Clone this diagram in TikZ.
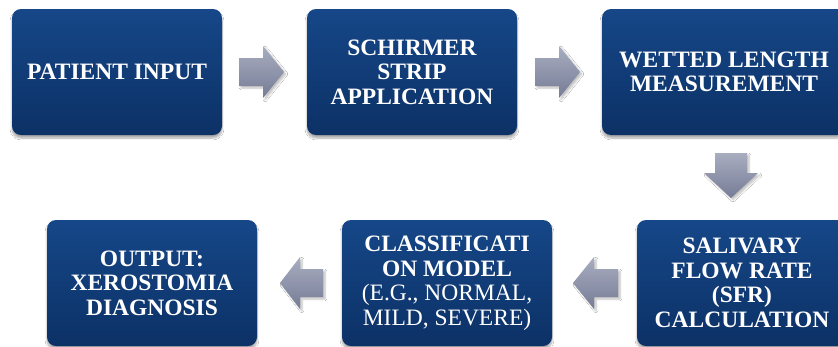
\documentclass[tikz,border=0pt]{standalone}
\usepackage{fontspec}
\setmainfont{Liberation Serif}
\usetikzlibrary{shadows.blur}
\definecolor{boxtop}{RGB}{22,71,136}
\definecolor{boxbot}{RGB}{12,49,102}
\definecolor{arrtop}{RGB}{168,173,192}
\definecolor{arrbot}{RGB}{118,124,150}
\tikzset{
  stepbox/.style={rounded corners=9pt, top color=boxtop, bottom color=boxbot,
    draw=none, text=white, align=center, minimum height=126pt,
    font=\bfseries\fontsize{23.5}{24.5}\selectfont,
    blur shadow={shadow blur steps=8, shadow xshift=0pt, shadow yshift=-3pt, shadow opacity=35}},
  blockarrow/.style={top color=arrtop, bottom color=arrbot, draw=none,
    blur shadow={shadow blur steps=6, shadow xshift=2pt, shadow yshift=-2pt, shadow opacity=25}}
}
\begin{document}
\begin{tikzpicture}[x=1pt,y=-1pt]
\useasboundingbox (0,0) rectangle (838,346);
\clip (0,0) rectangle (838,346);
\fill[white] (0,0) rectangle (838,346);
% boxes
\node[stepbox, minimum width=210pt] (b1) at (117,72) {PATIENT INPUT};
\node[stepbox, minimum width=210pt] (b2) at (412,72) {SCHIRMER\\STRIP\\APPLICATION};
\node[stepbox, minimum width=244pt] (b3) at (724,72) {WETTED LENGTH\\MEASUREMENT};
\node[stepbox, minimum width=210pt] (b4) at (742,283) {SALIVARY\\FLOW RATE\\(SFR)\\CALCULATION};
\node[stepbox, minimum width=210pt] (b5) at (447,283) {CLASSIFICATI\\ON MODEL\\{\mdseries(E.G., NORMAL,}\\{\mdseries MILD, SEVERE)}};
\node[stepbox, minimum width=210pt] (b6) at (152,283) {OUTPUT:\\XEROSTOMIA\\DIAGNOSIS};
% block arrows (right)
\coordinate (a1) at (239,72);
\path[blockarrow] (a1) ++(0,-14) -- ++(24,0) -- ++(0,-12) -- ++(21,26) -- ++(-21,26) -- ++(0,-12) -- ++(-24,0) -- cycle;
\coordinate (a2) at (535,72);
\path[blockarrow] (a2) ++(0,-14) -- ++(24,0) -- ++(0,-12) -- ++(21,26) -- ++(-21,26) -- ++(0,-12) -- ++(-24,0) -- cycle;
% down arrow
\coordinate (a3) at (731,153);
\path[blockarrow] (a3) ++(-16,0) -- ++(32,0) -- ++(0,20) -- ++(11,0) -- ++(-27,25) -- ++(-27,-25) -- ++(11,0) -- cycle;
% left arrows
\coordinate (a4) at (618,283);
\path[blockarrow] (a4) ++(0,-14) -- ++(-24,0) -- ++(0,-12) -- ++(-21,26) -- ++(21,26) -- ++(0,-12) -- ++(24,0) -- cycle;
\coordinate (a5) at (323,283);
\path[blockarrow] (a5) ++(0,-14) -- ++(-23,0) -- ++(0,-12) -- ++(-20,26) -- ++(20,26) -- ++(0,-12) -- ++(23,0) -- cycle;
\end{tikzpicture}
\end{document}
